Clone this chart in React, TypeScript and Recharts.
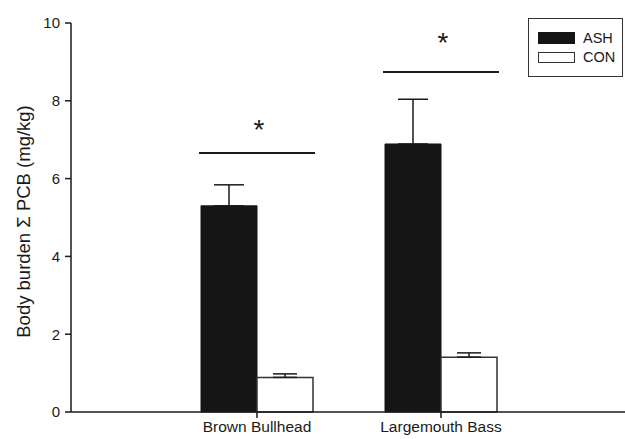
import React from "react";
import {
  BarChart,
  Bar,
  XAxis,
  YAxis,
  ErrorBar,
  LabelList,
  Legend,
} from "recharts";

const categories = ["Brown Bullhead", "Largemouth Bass"];
const ashMeans = [5.3, 6.89];
const ashErrors = [0.54, 1.15];
const conMeans = [0.89, 1.41];
const conErrors = [0.09, 0.11];
// significance bar height and asterisk height, per category
const sigLineLevels = [6.66, 8.74];
const sigStarLevels = [7.4, 9.63];
const yTicks = [0, 2, 4, 6, 8, 10];

const chartData = categories.map((name, i) => ({
  name,
  ash: ashMeans[i],
  ashErr: [0, ashErrors[i]],
  con: conMeans[i],
  conErr: [0, conErrors[i]],
}));

const FONT = "'Liberation Sans', Arial, sans-serif";
const INK = "#1a1a1a";

const SigMarker = (props: any) => {
  const { x, y, width, height, value, index } = props;
  if (value == null || !height) return null;
  const base = y + height;
  const perUnit = height / value;
  const lineY = base - sigLineLevels[index] * perUnit;
  const starY = base - sigStarLevels[index] * perUnit;
  const mid = x + width;
  return (
    <g>
      <line
        x1={mid - 58}
        x2={mid + 58}
        y1={lineY}
        y2={lineY}
        stroke={INK}
        strokeWidth={2}
      />
      <text
        x={mid + 2}
        y={starY + 15}
        textAnchor="middle"
        fontSize={28}
        fontFamily={FONT}
        fill={INK}
      >
        *
      </text>
    </g>
  );
};

const LegendBox = () => (
  <div
    style={{
      width: 95,
      height: 59,
      border: "1.5px solid #333",
      background: "#fff",
      boxSizing: "border-box",
      fontFamily: FONT,
      fontSize: 14.5,
      color: INK,
      padding: "12px 0 0 9px",
    }}
  >
    <div style={{ display: "flex", alignItems: "center", height: 14, marginBottom: 5 }}>
      <span style={{ display: "inline-block", width: 37, height: 12, background: "#151515" }} />
      <span style={{ marginLeft: 8 }}>ASH</span>
    </div>
    <div style={{ display: "flex", alignItems: "center", height: 14 }}>
      <span
        style={{
          display: "inline-block",
          width: 37,
          height: 11,
          border: "1px solid #333",
          boxSizing: "border-box",
          background: "#fff",
        }}
      />
      <span style={{ marginLeft: 8 }}>CON</span>
    </div>
  </div>
);

const YLabel = (props: any) => {
  const vb = props.viewBox || {};
  const cy = (vb.y ?? 23) + (vb.height ?? 389) / 2 + 4;
  return (
    <text
      x={23}
      y={cy}
      transform={`rotate(-90, 23, ${cy})`}
      textAnchor="middle"
      dominantBaseline="central"
      fontSize={18.5}
      fontFamily={FONT}
      fill={INK}
    >
      Body burden Σ PCB (mg/kg)
    </text>
  );
};

export default function App() {
  return (
    <div style={{ position: "absolute", left: 0, top: 0, background: "#fff" }}>
      <BarChart
        width={625}
        height={439}
        data={chartData}
        margin={{ top: 23, right: 0, bottom: 0, left: 0 }}
        barGap={0}
        barSize={56}
      >
        <XAxis
          dataKey="name"
          padding={{ left: 94, right: 92 }}
          height={27}
          tickSize={6}
          tickMargin={3}
          tick={{ fontSize: 15.5, fontFamily: FONT, fill: INK }}
          axisLine={{ stroke: INK, strokeWidth: 1.5 }}
          tickLine={{ stroke: INK, strokeWidth: 1.5 }}
        />
        <YAxis
          domain={[0, 10]}
          ticks={yTicks}
          width={71}
          tickSize={6}
          tickMargin={5}
          tick={{ fontSize: 15, fontFamily: FONT, fill: INK }}
          axisLine={{ stroke: INK, strokeWidth: 1.5 }}
          tickLine={{ stroke: INK, strokeWidth: 1.5 }}
          label={<YLabel />}
        />
        <Legend
          layout="vertical"
          align="center"
          verticalAlign="middle"
          content={<LegendBox />}
          wrapperStyle={{ position: "absolute", left: 528, top: 18, width: 95 }}
        />
        <Bar
          dataKey="ash"
          name="ASH"
          fill="#151515"
          stroke="#151515"
          strokeWidth={1}
          isAnimationActive={false}
        >
          <ErrorBar dataKey="ashErr" width={15} stroke={INK} strokeWidth={1.5} />
          <LabelList dataKey="ash" content={<SigMarker />} />
        </Bar>
        <Bar
          dataKey="con"
          name="CON"
          fill="#ffffff"
          stroke="#333"
          strokeWidth={1.5}
          isAnimationActive={false}
        >
          <ErrorBar dataKey="conErr" width={12} stroke={INK} strokeWidth={1.5} />
        </Bar>
      </BarChart>
    </div>
  );
}
